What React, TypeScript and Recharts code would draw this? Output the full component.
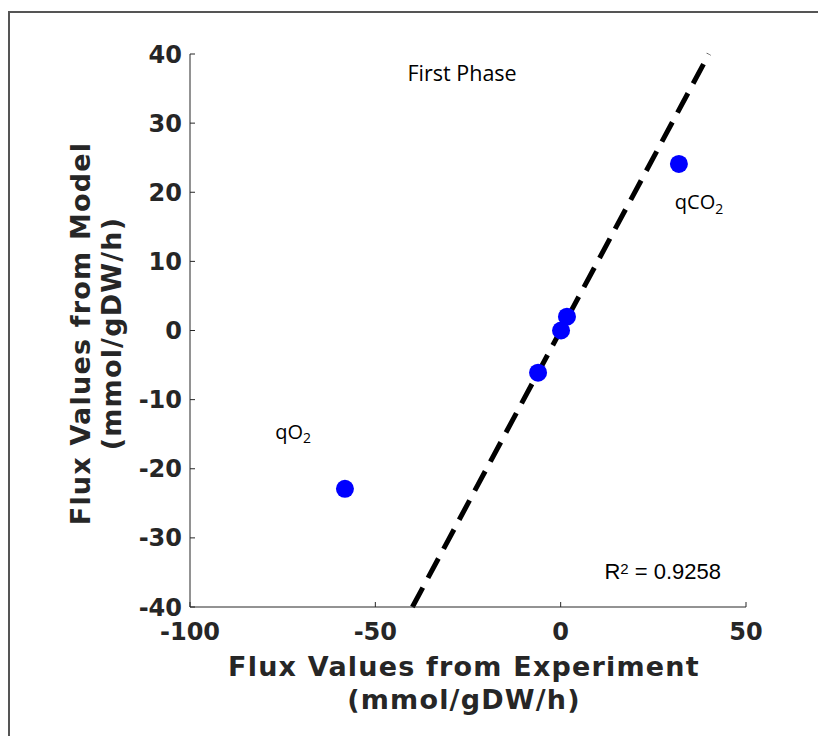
import React from "react"
import {
  ScatterChart,
  Scatter,
  XAxis,
  YAxis,
  ReferenceLine,
  ReferenceDot,
  Label,
} from "recharts"

const experimentValues = [-58.2, -6.1, 0.1, 1.7, 31.9]
const modelValues = [-22.9, -6.1, 0, 2, 24.1]

const xTicks = [-100, -50, 0, 50]
const yTicks = [-40, -30, -20, -10, 0, 10, 20, 30, 40]

// y = x identity line drawn across the visible y range
const identityLine = [
  { x: -40, y: -40 },
  { x: 40, y: 40 },
]

const annotations = [
  { x: -26.6, y: 37.3, text: "First Phase", sub: "", sup: "", size: 21.5 },
  { x: -77, y: -14.6, text: "qO", sub: "2", sup: "", size: 20 },
  { x: 30.8, y: 18.6, text: "qCO", sub: "2", sup: "", size: 20 },
  { x: 11.8, y: -34.8, text: "R", sub: "", sup: "2", size: 22 },
]
const r2Text = " = 0.9258"

const points = experimentValues.map((x, i) => ({ x, y: modelValues[i] }))

const AXIS = "#262626"
const tickStyle = {
  fontSize: 24,
  fontWeight: "bold",
  fill: AXIS,
  fontFamily: "DejaVu Sans",
}
const titleStyle = { ...tickStyle, fontSize: 27, letterSpacing: 1.2 }

function AnnotationShape(props: any) {
  const { cx, cy, item } = props
  if (item.sup) {
    return (
      <text
        x={cx}
        y={cy}
        dominantBaseline="central"
        style={{ fontFamily: "Liberation Sans", fontSize: item.size, fill: "#000" }}
      >
        {item.text}
        <tspan fontSize={15} dy={-3}>{item.sup}</tspan>
        <tspan dy={3}>{r2Text}</tspan>
      </text>
    )
  }
  return (
    <text
      x={cx}
      y={cy}
      textAnchor={item.sub ? "start" : "middle"}
      dominantBaseline="central"
      style={{ fontFamily: "Open Sans", fontSize: item.size, fill: "#000" }}
    >
      {item.text}
      {item.sub && (
        <tspan fontSize={14} dy={6}>{item.sub}</tspan>
      )}
    </text>
  )
}

function XTitle(props: any) {
  const { x, y, width } = props.viewBox
  const cx = x + width / 2 - 4
  return (
    <text textAnchor="middle" style={titleStyle}>
      <tspan x={cx} y={y + 69}>Flux Values from Experiment</tspan>
      <tspan x={cx} y={y + 102}>(mmol/gDW/h)</tspan>
    </text>
  )
}

function YTitle(props: any) {
  const { y, height } = props.viewBox
  const cy = y + height / 2 + 3
  return (
    <g style={titleStyle}>
      <text
        x={80}
        y={cy}
        textAnchor="middle"
        dominantBaseline="central"
        transform={`rotate(-90, 80, ${cy})`}
      >
        Flux Values from Model
      </text>
      <text
        x={111}
        y={cy}
        textAnchor="middle"
        dominantBaseline="central"
        transform={`rotate(-90, 111, ${cy})`}
      >
        (mmol/gDW/h)
      </text>
    </g>
  )
}

export default function App() {
  return (
    <div
      style={{
        position: "absolute",
        left: 0,
        top: 0,
        width: 818,
        height: 736,
        overflow: "hidden",
        background: "#fff",
      }}
    >
      <div
        style={{
          position: "absolute",
          left: 8,
          top: 11,
          width: 900,
          height: 900,
          border: "2px solid #555",
        }}
      />
      <div style={{ position: "absolute", left: 0, top: 0 }}>
        <ScatterChart
          width={818}
          height={736}
          margin={{ top: 54, right: 72, bottom: 89, left: 90 }}
        >
          <XAxis
            type="number"
            dataKey="x"
            domain={[-100, 50]}
            ticks={xTicks}
            allowDataOverflow
            height={40}
            stroke={AXIS}
            tickSize={-5}
            tickMargin={21}
            tick={tickStyle}
          >
            <Label content={<XTitle />} />
          </XAxis>
          <YAxis
            type="number"
            dataKey="y"
            domain={[-40, 40]}
            ticks={yTicks}
            allowDataOverflow
            width={100}
            stroke={AXIS}
            tickSize={-5}
            tickMargin={13}
            tick={tickStyle}
          >
            <Label content={<YTitle />} />
          </YAxis>
          <ReferenceLine
            segment={identityLine}
            stroke="#000"
            strokeWidth={5}
            strokeDasharray="22 11"
            ifOverflow="visible"
          />
          <Scatter
            data={points}
            fill="#0000ff"
            isAnimationActive={false}
            shape={(p: any) => <circle cx={p.cx} cy={p.cy} r={9} fill="#0000ff" />}
          />
          {annotations.map((a) => (
            <ReferenceDot
              key={a.text}
              x={a.x}
              y={a.y}
              ifOverflow="visible"
              shape={(p: any) => <AnnotationShape {...p} item={a} />}
            />
          ))}
        </ScatterChart>
      </div>
    </div>
  )
}
